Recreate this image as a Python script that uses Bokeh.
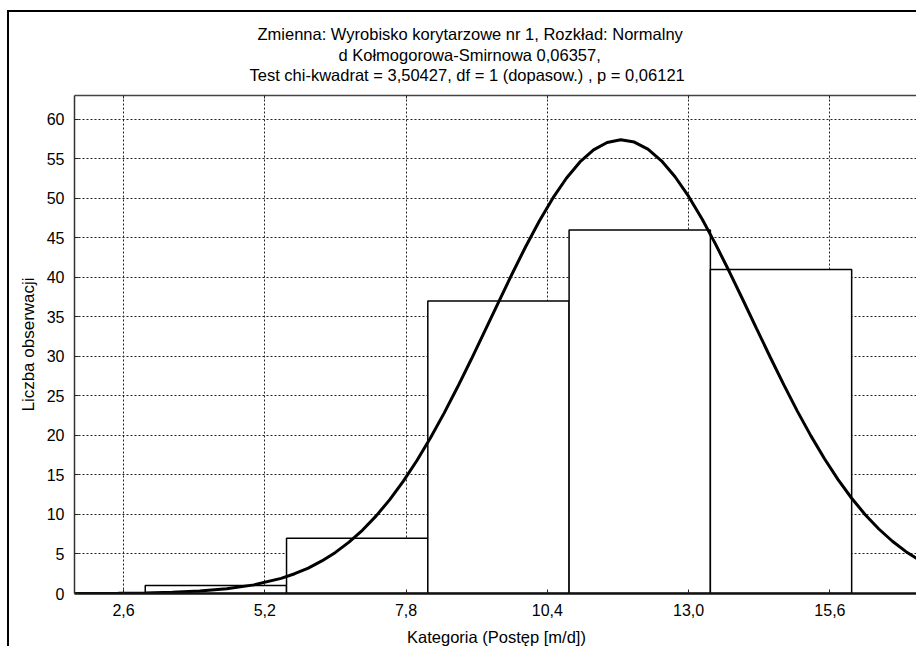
from bokeh.plotting import figure
from bokeh.models import Range1d, FixedTicker, Title, LinearAxis
from bokeh.embed import file_html
from bokeh.resources import INLINE

# ---------------- data ----------------
title_lines = [
    "Zmienna: Wyrobisko korytarzowe nr 1, Rozkład: Normalny",
    "d Kołmogorowa-Smirnowa 0,06357,",
    "Test chi-kwadrat = 3,50427, df = 1 (dopasow.) , p = 0,06121",
]
x_label = "Kategoria (Postęp [m/d])"
y_label = "Liczba obserwacji"

bin_left = [3.0, 5.6, 8.2, 10.8, 13.4]
bin_right = [5.6, 8.2, 10.8, 13.4, 16.0]
counts = [1, 7, 37, 46, 41]

x_ticks = [2.6, 5.2, 7.8, 10.4, 13.0, 15.6]
x_tick_labels = ["2,6", "5,2", "7,8", "10,4", "13,0", "15,6"]
y_ticks = [0, 5, 10, 15, 20, 25, 30, 35, 40, 45, 50, 55, 60]

# fitted normal curve
curve_x = [1.5, 2.0, 2.5, 3.0, 3.5, 4.0, 4.5, 5.0, 5.5, 5.75, 6.0, 6.25, 6.5, 6.75,
           7.0, 7.25, 7.5, 7.75, 8.0, 8.25, 8.5, 8.75, 9.0, 9.25, 9.5, 9.75, 10.0,
           10.25, 10.5, 10.75, 11.0, 11.25, 11.5, 11.75, 12.0, 12.25, 12.5, 12.75,
           13.0, 13.25, 13.5, 13.75, 14.0, 14.25, 14.5, 14.75, 15.0, 15.25, 15.5,
           15.75, 16.0, 16.25, 16.5, 16.75, 17.0, 17.25, 17.5]
curve_y = [0.01, 0.015, 0.03, 0.07, 0.15, 0.31, 0.59, 1.09, 1.91, 2.50, 3.22, 4.12,
           5.20, 6.50, 8.03, 9.82, 11.88, 14.21, 16.83, 19.70, 22.82, 26.15, 29.63,
           33.22, 36.84, 40.42, 43.87, 47.09, 50.01, 52.53, 54.59, 56.12, 57.06,
           57.40, 57.11, 56.22, 54.74, 52.72, 50.23, 47.34, 44.13, 40.70, 37.13,
           33.51, 29.92, 26.42, 23.07, 19.94, 17.04, 14.41, 12.05, 9.97, 8.16,
           6.61, 5.29, 4.20, 3.29]

x_min, x_max = 1.698, 17.23
y_min, y_max = 0, 63

FONT = "Liberation Sans"

# ---------------- figure ----------------
p = figure(width=909, height=636, output_backend="svg", toolbar_location=None,
           title=None,
           x_range=Range1d(x_min, x_max), y_range=Range1d(y_min, y_max),
           min_border_left=65, min_border_right=0, min_border_top=83,
           min_border_bottom=55)
p.styles = {"margin-top": "10px", "margin-left": "7px",
            "border-top": "2px solid #000", "border-left": "2px solid #000"}
p.outline_line_color = None
p.background_fill_color = "white"
p.border_fill_color = "white"

# grid
p.xgrid.ticker = FixedTicker(ticks=x_ticks)
p.ygrid.ticker = FixedTicker(ticks=y_ticks)
for g in (p.xgrid[0], p.ygrid[0]):
    g.grid_line_color = "#222222"
    g.grid_line_dash = "2 2"
    g.grid_line_width = 1

# x axis
xa = p.xaxis[0]
xa.ticker = FixedTicker(ticks=x_ticks)
xa.major_label_overrides = {t: l for t, l in zip(x_ticks, x_tick_labels)}
xa.axis_label = x_label
xa.axis_line_color = "#111111"
xa.axis_line_width = 2.5
xa.major_tick_in = 4
xa.major_tick_out = 0
xa.major_tick_line_color = "#222222"
xa.minor_tick_line_color = None
xa.major_label_text_font = FONT
xa.major_label_text_font_size = "16px"
xa.major_label_text_color = "black"
xa.major_label_standoff = 10
xa.axis_label_text_font = FONT
xa.axis_label_text_font_size = "16.5px"
xa.axis_label_text_font_style = "normal"
xa.axis_label_text_color = "black"
xa.axis_label_standoff = 9

# y axis
ya = p.yaxis[0]
ya.ticker = FixedTicker(ticks=y_ticks)
ya.axis_label = y_label
ya.axis_line_color = "#333333"
ya.axis_line_width = 1.5
ya.major_tick_in = 4
ya.major_tick_out = 0
ya.major_tick_line_color = "#222222"
ya.minor_tick_line_color = None
ya.major_label_text_font = FONT
ya.major_label_text_font_size = "16px"
ya.major_label_text_color = "black"
ya.major_label_standoff = 10
ya.axis_label_text_font = FONT
ya.axis_label_text_font_size = "17px"
ya.axis_label_text_font_style = "normal"
ya.axis_label_text_color = "black"
ya.axis_label_standoff = 6

# top frame line: axis with small inward ticks and no labels
ta = LinearAxis(ticker=FixedTicker(ticks=[], minor_ticks=x_ticks),
                major_tick_in=0, major_tick_out=0, major_tick_line_color=None,
                minor_tick_in=3, minor_tick_out=0, minor_tick_line_color="#222222",
                axis_line_color="#444444", axis_line_width=1.5)
p.add_layout(ta, "above")

# bars
p.quad(left=bin_left, right=bin_right, bottom=0, top=counts,
       fill_color="white", line_color="black", line_width=1.5)

# fitted curve
p.line(curve_x, curve_y, line_color="black", line_width=3)

# blank spacer between the plot frame and the title block
p.add_layout(Title(text=" ", text_font=FONT, text_font_size="9px", standoff=0),
             "above")

# title: three lines, left offsets relative to the plot frame
line_offsets = [183, 264, 175]
line_standoffs = [1, 0, 0]
for text, off, so in reversed(list(zip(title_lines, line_offsets, line_standoffs))):
    p.add_layout(Title(text=text, align="left", offset=off, standoff=so,
                       text_font=FONT, text_font_size="16.5px",
                       text_font_style="normal", text_color="black"), "above")

open("out.html", "w").write(file_html(p, INLINE))
